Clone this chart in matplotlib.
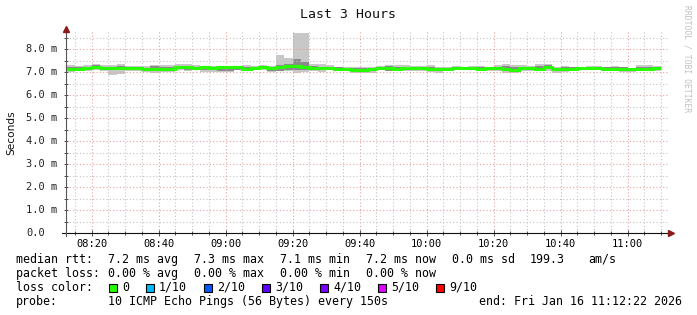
import numpy as np
import matplotlib
matplotlib.use("Agg")
import matplotlib.pyplot as plt
from matplotlib.lines import Line2D
from matplotlib.patches import Rectangle
from matplotlib.transforms import blended_transform_factory

W, H = 697, 315
MONO = "DejaVu Sans Mono"

# time axis in minutes after midnight, 150 s steps
t_first = 8 * 60 + 12.5
step_min = 2.5
view_start = 8 * 60 + 12 + 22 / 60.0
view_end = 11 * 60 + 12 + 22 / 60.0

# smoke per step (ms): outer min/max, inner lo/hi and median
ping_max = [7.30, 7.28, 7.30, 7.36, 7.30, 7.30, 7.36, 7.28, 7.28, 7.27,
            7.33, 7.30, 7.30, 7.36, 7.35, 7.30, 7.29, 7.28, 7.28, 7.28,
            7.28, 7.30, 7.26, 7.33, 7.27, 7.77, 7.62, 8.72, 8.72, 7.38,
            7.36, 7.30, 7.25, 7.22, 7.25, 7.25, 7.22, 7.27, 7.33, 7.30,
            7.30, 7.27, 7.27, 7.30, 7.22, 7.22, 7.27, 7.23, 7.27, 7.27,
            7.22, 7.33, 7.36, 7.33, 7.30, 7.27, 7.36, 7.36, 7.22, 7.27,
            7.23, 7.22, 7.27, 7.27, 7.23, 7.27, 7.25, 7.20, 7.30, 7.33,
            7.27]
ping_hi = [7.22, 7.22, 7.25, 7.30, 7.25, 7.23, 7.28, 7.24, 7.22, 7.20,
           7.26, 7.24, 7.22, 7.29, 7.28, 7.25, 7.25, 7.24, 7.27, 7.27,
           7.25, 7.22, 7.23, 7.27, 7.21, 7.30, 7.35, 7.57, 7.45, 7.28,
           7.25, 7.25, 7.21, 7.20, 7.19, 7.20, 7.18, 7.24, 7.26, 7.24,
           7.20, 7.22, 7.22, 7.24, 7.20, 7.20, 7.22, 7.21, 7.23, 7.22,
           7.21, 7.25, 7.27, 7.22, 7.25, 7.24, 7.28, 7.30, 7.20, 7.22,
           7.21, 7.20, 7.24, 7.22, 7.21, 7.22, 7.21, 7.18, 7.22, 7.25,
           7.23]
ping_med = [7.15, 7.16, 7.17, 7.24, 7.19, 7.18, 7.20, 7.17, 7.17, 7.14,
            7.15, 7.14, 7.15, 7.23, 7.22, 7.20, 7.21, 7.19, 7.24, 7.24,
            7.22, 7.15, 7.18, 7.25, 7.17, 7.22, 7.26, 7.27, 7.22, 7.18,
            7.17, 7.17, 7.15, 7.14, 7.12, 7.12, 7.13, 7.18, 7.17, 7.16,
            7.17, 7.17, 7.17, 7.15, 7.13, 7.15, 7.17, 7.18, 7.17, 7.16,
            7.18, 7.17, 7.13, 7.12, 7.17, 7.17, 7.15, 7.24, 7.13, 7.15,
            7.15, 7.17, 7.17, 7.17, 7.16, 7.16, 7.15, 7.13, 7.14, 7.15,
            7.17]
ping_lo = [7.07, 7.10, 7.11, 7.17, 7.12, 7.08, 7.10, 7.11, 7.10, 7.08,
           7.06, 7.08, 7.10, 7.17, 7.10, 7.13, 7.12, 7.12, 7.05, 7.06,
           7.12, 7.10, 7.12, 7.18, 7.05, 7.06, 7.12, 7.10, 7.08, 7.10,
           7.10, 7.12, 7.07, 7.07, 7.05, 7.05, 7.06, 7.12, 7.06, 7.07,
           7.10, 7.10, 7.12, 7.07, 7.06, 7.08, 7.12, 7.13, 7.13, 7.10,
           7.12, 7.10, 7.05, 7.05, 7.10, 7.10, 7.08, 7.14, 7.06, 7.04,
           7.10, 7.13, 7.12, 7.11, 7.11, 7.11, 7.04, 7.05, 7.06, 7.07,
           7.10]
ping_min = [7.02, 7.04, 7.06, 7.12, 7.05, 6.90, 6.94, 7.07, 7.06, 7.03,
            6.99, 7.01, 7.02, 7.10, 7.06, 7.10, 7.01, 7.03, 7.02, 7.03,
            7.08, 7.08, 7.08, 7.12, 7.00, 7.04, 7.06, 6.95, 7.00, 7.04,
            7.02, 7.08, 7.04, 7.04, 6.98, 6.97, 6.97, 7.08, 7.04, 7.04,
            7.04, 7.04, 7.04, 7.01, 6.98, 7.04, 7.09, 7.10, 7.10, 7.04,
            7.07, 7.07, 6.98, 6.98, 7.04, 7.04, 7.07, 7.04, 6.98, 7.01,
            7.06, 7.10, 7.09, 7.09, 7.08, 7.07, 7.01, 7.01, 7.04, 7.04,
            7.07]

y_ticks = [0.0, 1.0, 2.0, 3.0, 4.0, 5.0, 6.0, 7.0, 8.0]
y_labels = ["0.0", "1.0 m", "2.0 m", "3.0 m", "4.0 m", "5.0 m", "6.0 m", "7.0 m", "8.0 m"]
x_ticks = [500, 520, 540, 560, 580, 600, 620, 640, 660]
x_labels = ["08:20", "08:40", "09:00", "09:20", "09:40", "10:00", "10:20", "10:40", "11:00"]

loss_labels = ["0", "1/10", "2/10", "3/10", "4/10", "5/10", "9/10"]
loss_colors = ["#26ff00", "#00b8ff", "#0059ff", "#5e00ff", "#7e00ff", "#dd00ff", "#ff0000"]

rtt_stats = ["7.2 ms avg", "7.3 ms max", "7.1 ms min", "7.2 ms now", "0.0 ms sd"]
loss_stats = ["0.00 % avg", "0.00 % max", "0.00 % min", "0.00 % now"]


def fx(px):
    return px / W


def fy(py):
    return 1 - py / H


fig = plt.figure(figsize=(W / 100, H / 100), dpi=100)
fig.patch.set_facecolor("white")
ax_left, ax_right, ax_bottom, ax_top = 66, 669, 233.3, 30
ax = fig.add_axes([fx(ax_left), fy(ax_bottom), (ax_right - ax_left) / W, (ax_bottom - ax_top) / H])
ax.set_facecolor("white")

edges = t_first + step_min * np.arange(len(ping_med) + 1)
ax.stairs(ping_max, edges, baseline=ping_min, fill=True, color="#c8c8c8", lw=0, zorder=1)
ax.stairs(ping_hi, edges, baseline=ping_lo, fill=True, color="#8a8a8a", lw=0, zorder=1.1)
ax.stairs(ping_med, edges, baseline=None, color="#26ff00", lw=2.2, zorder=3)

ax.set_xlim(view_start, view_end)
ax.set_ylim(0, (ax_bottom - ax_top) / 23.0)

# grid: dotted, red for major, grey for minor
ax.set_xticks(x_ticks)
ax.set_xticks(np.arange(495, 671, 5), minor=True)
ax.set_yticks(y_ticks)
ax.set_yticks(np.arange(0.5, 8.6, 1.0), minor=True)
ax.set_xticklabels(x_labels, fontfamily=MONO, fontsize=7.5)
ax.set_yticklabels([])
ax.grid(which="minor", color="#c4c4c4", linestyle=(0, (1, 2)), lw=0.8)
ax.grid(which="major", color="#e8a0a0", linestyle=(0, (1, 2)), lw=0.8)
ax.set_axisbelow(False)
ax.tick_params(which="both", direction="inout", color="#505050", width=0.7)
ax.tick_params(which="major", length=4, pad=2)
ax.tick_params(which="minor", length=2.5)
ax.tick_params(axis="y", which="both", length=3)
for s in ax.spines.values():
    s.set_visible(False)

ylab_tr = blended_transform_factory(fig.transFigure, ax.transData)
for v, lab in zip(y_ticks, y_labels):
    ax.text(fx(26.5), v, lab, transform=ylab_tr, ha="left", va="center",
            fontfamily=MONO, fontsize=7.5, color="#222222")

# axis lines with arrows
fig.add_artist(Line2D([fx(62), fx(670)], [fy(233.3), fy(233.3)], color="#111111", lw=0.8))
fig.add_artist(Line2D([fx(66), fx(66)], [fy(236), fy(31)], color="#555555", lw=0.8))
fig.add_artist(Line2D([fx(66)], [fy(29)], marker="^", ms=4.5, color="#8b1a1a", lw=0))
fig.add_artist(Line2D([fx(671)], [fy(233.3)], marker=">", ms=4.5, color="#8b1a1a", lw=0))

fig.text(fx(348), fy(14), "Last 3 Hours", ha="center", va="center",
         fontfamily=MONO, fontsize=9.5, color="#111111")
fig.text(fx(11), fy(133), "Seconds", rotation=90, ha="center", va="center",
         fontfamily="DejaVu Sans", fontsize=7.6, color="#111111")
fig.text(fx(687), fy(5), "RRDTOOL / TOBI OETIKER", rotation=270, ha="center", va="top",
         fontfamily=MONO, fontsize=5.8, color="#c0c0c0")

# legend rows
leg_fs = 8.4
rows = [259.5, 273.5, 287.5, 301.5]
col_x = [108, 194, 280, 366, 452]
fig.text(fx(16), fy(rows[0]), "median rtt:", ha="left", va="center", fontfamily=MONO, fontsize=leg_fs)
for x, s in zip(col_x, rtt_stats):
    fig.text(fx(x), fy(rows[0]), s, ha="left", va="center", fontfamily=MONO, fontsize=leg_fs)
fig.text(fx(530), fy(rows[0]), "199.3", ha="left", va="center", fontfamily=MONO, fontsize=leg_fs)
fig.text(fx(588), fy(rows[0]), "am/s", ha="left", va="center", fontfamily=MONO, fontsize=leg_fs)

fig.text(fx(16), fy(rows[1]), "packet loss:", ha="left", va="center", fontfamily=MONO, fontsize=leg_fs)
for x, s in zip(col_x, loss_stats):
    fig.text(fx(x), fy(rows[1]), s, ha="left", va="center", fontfamily=MONO, fontsize=leg_fs)

fig.text(fx(16), fy(rows[2]), "loss color:", ha="left", va="center", fontfamily=MONO, fontsize=leg_fs)
box_x = [109, 146, 204, 262, 320, 378, 436]
for x, lab, c in zip(box_x, loss_labels, loss_colors):
    fig.add_artist(Rectangle((fx(x), fy(rows[2] + 4)), 8 / W, 8 / H, facecolor=c,
                             edgecolor="black", lw=0.8, transform=fig.transFigure))
    fig.text(fx(x + 13), fy(rows[2]), lab, ha="left", va="center", fontfamily=MONO, fontsize=leg_fs)

fig.text(fx(16), fy(rows[3]), "probe:", ha="left", va="center", fontfamily=MONO, fontsize=leg_fs)
fig.text(fx(108), fy(rows[3]), "10 ICMP Echo Pings (56 Bytes) every 150s", ha="left", va="center",
         fontfamily=MONO, fontsize=leg_fs)
fig.text(fx(682), fy(rows[3]), "end: Fri Jan 16 11:12:22 2026", ha="right", va="center",
         fontfamily=MONO, fontsize=leg_fs)

fig.savefig("out.png", dpi=100, facecolor="white")
